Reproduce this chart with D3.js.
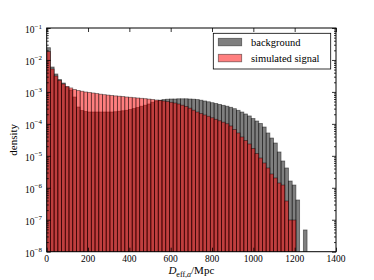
<!DOCTYPE html>
<html><head><meta charset="utf-8">
<script src="https://cdn.jsdelivr.net/npm/d3@7"></script>
<style>
body{margin:0;background:#fff}
svg{display:block}
text{font-family:"Liberation Serif","DejaVu Serif",serif;fill:#000}
</style>
</head><body>
<svg id="c" width="374" height="280"></svg>
<script>
// ---- data ----
const binWidth = 18; // Mpc per bin, bins start at 0
const background = [
 2.42e-2,6.02e-3,3.64e-3,2.45e-3,1.90e-3,1.43e-3,1.15e-3,6.93e-4,3.37e-4,2.62e-4,
 2.44e-4,2.35e-4,2.35e-4,2.35e-4,2.35e-4,2.35e-4,2.35e-4,2.35e-4,2.40e-4,2.48e-4,
 2.57e-4,2.66e-4,2.82e-4,3.03e-4,3.26e-4,3.57e-4,3.84e-4,4.19e-4,4.77e-4,5.20e-4,
 5.51e-4,5.75e-4,5.92e-4,6.00e-4,6.00e-4,6.09e-4,6.09e-4,6.09e-4,6.00e-4,5.92e-4,
 5.75e-4,5.51e-4,5.20e-4,4.91e-4,4.60e-4,4.35e-4,4.07e-4,3.81e-4,3.57e-4,3.30e-4,
 2.99e-4,2.66e-4,2.35e-4,2.04e-4,1.77e-4,1.47e-4,1.23e-4,1.03e-4,7.98e-5,5.19e-5,
 3.61e-5,2.52e-5,1.32e-5,6.90e-6,4.17e-6,1.63e-6,1.22e-6,4.15e-7,0,4.79e-8
];
const signal = [
 1.84e-2,5.21e-3,3.15e-3,2.28e-3,1.77e-3,1.48e-3,1.33e-3,1.19e-3,1.11e-3,1.05e-3,
 9.94e-4,9.60e-4,9.25e-4,8.86e-4,8.49e-4,8.19e-4,7.95e-4,7.73e-4,7.50e-4,7.34e-4,
 7.14e-4,6.93e-4,6.79e-4,6.59e-4,6.45e-4,6.31e-4,6.14e-4,5.96e-4,5.79e-4,5.58e-4,
 5.39e-4,5.20e-4,4.98e-4,4.73e-4,4.50e-4,4.19e-4,3.84e-4,3.50e-4,3.10e-4,2.68e-4,
 2.35e-4,2.11e-4,1.90e-4,1.73e-4,1.55e-4,1.39e-4,1.25e-4,1.13e-4,1.01e-4,8.59e-5,
 6.67e-5,5.19e-5,3.89e-5,3.02e-5,2.35e-5,1.70e-5,1.18e-5,8.55e-6,5.97e-6,4.17e-6,
 2.70e-6,2.03e-6,1.41e-6,1.22e-6,3.86e-7,9.8e-8,9.8e-8
];
const xTicks = [0,200,400,600,800,1000,1200,1400];
const yTickExps = [-8,-7,-6,-5,-4,-3,-2,-1];
const legendLabels = ["background","simulated signal"];
const yLabel = "density";

// ---- layout ----
const L = 46.7, R = 336, T = 28, B = 251.7;
const svg = d3.select("#c");
const x = d3.scaleLinear().domain([0,1400]).range([L,R]);
const y = d3.scaleLog().domain([1e-8,1e-1]).range([B,T]);

svg.append("defs").append("clipPath").attr("id","clip")
  .append("rect").attr("x",L).attr("y",T).attr("width",R-L).attr("height",B-T);

const plot = svg.append("g").attr("clip-path","url(#clip)");
function drawHist(vals, fill){
  const data = vals.map((v,i)=>({v,i})).filter(d=>d.v>0);
  plot.append("g").selectAll("rect").data(data).join("rect")
    .attr("x",d=>x(d.i*binWidth))
    .attr("width",x(binWidth)-x(0))
    .attr("y",d=>y(d.v))
    .attr("height",d=>y(1e-8)-y(d.v)+2)
    .attr("fill",fill).attr("fill-opacity",0.5)
    .attr("stroke","#000").attr("stroke-opacity",0.5).attr("stroke-width",0.8);
}
drawHist(background,"#000");
drawHist(signal,"#ff0000");

// ---- axes (inward ticks on all sides) ----
const minor = [];
for(let e=-8;e<-1;e++) for(let m=2;m<=9;m++) minor.push(m*Math.pow(10,e));
const majorY = yTickExps.map(e=>Math.pow(10,e));
function styleAxis(g){ g.select(".domain").remove(); g.selectAll("line").attr("stroke","#000").attr("stroke-width",0.8); g.selectAll("text").remove(); }
svg.append("g").attr("transform",`translate(0,${B})`).call(d3.axisBottom(x).tickValues(xTicks).tickSize(-4)).call(styleAxis);
svg.append("g").attr("transform",`translate(0,${T})`).call(d3.axisTop(x).tickValues(xTicks).tickSize(-4)).call(styleAxis);
svg.append("g").attr("transform",`translate(${L},0)`).call(d3.axisLeft(y).tickValues(majorY).tickSize(-4)).call(styleAxis);
svg.append("g").attr("transform",`translate(${L},0)`).call(d3.axisLeft(y).tickValues(minor).tickSize(-2)).call(styleAxis);
svg.append("g").attr("transform",`translate(${R},0)`).call(d3.axisRight(y).tickValues(majorY).tickSize(-4)).call(styleAxis);
svg.append("g").attr("transform",`translate(${R},0)`).call(d3.axisRight(y).tickValues(minor).tickSize(-2)).call(styleAxis);

svg.append("rect").attr("x",L).attr("y",T).attr("width",R-L).attr("height",B-T)
  .attr("fill","none").attr("stroke","#000").attr("stroke-width",1);

// tick labels
svg.append("g").selectAll("text").data(xTicks).join("text")
  .attr("x",d=>x(d)).attr("y",B+10.5).attr("text-anchor","middle")
  .attr("font-size",9.5).text(d=>d);
const yl = svg.append("g").selectAll("text").data(yTickExps).join("text")
  .attr("x",42).attr("y",d=>y(Math.pow(10,d))+5).attr("text-anchor","end").attr("font-size",9.5);
yl.append("tspan").text("10");
yl.append("tspan").attr("dy",-4.5).attr("font-size",7).text(d=>"\u2212"+(-d));

// axis labels
svg.append("text").attr("transform",`translate(17,${(T+B)/2}) rotate(-90)`)
  .attr("text-anchor","middle").attr("font-size",11).text(yLabel);
const xl = svg.append("text").attr("x",(L+R)/2).attr("y",274).attr("text-anchor","middle").attr("font-size",11);
xl.append("tspan").attr("font-style","italic").text("D");
xl.append("tspan").attr("font-size",8).attr("dy",2.5).text("eff,");
xl.append("tspan").attr("font-size",8).attr("font-style","italic").text("a");
xl.append("tspan").attr("dy",-2.5).text("/Mpc");

// legend
const lg = svg.append("g");
lg.append("rect").attr("x",213.3).attr("y",33.3).attr("width",117.4).attr("height",35.7)
  .attr("fill","#fff").attr("stroke","#000").attr("stroke-width",0.8);
const legColors = ["#000","#ff0000"];
legendLabels.forEach((t,i)=>{
  const yy = 38.3 + i*16;
  lg.append("rect").attr("x",218.3).attr("y",yy).attr("width",23.4).attr("height",7.5)
    .attr("fill",legColors[i]).attr("fill-opacity",0.5).attr("stroke","#000").attr("stroke-opacity",0.5).attr("stroke-width",0.8);
  lg.append("text").attr("x",251).attr("y",yy+7.8).attr("font-size",10.5).text(t);
});
</script>
</body></html>
